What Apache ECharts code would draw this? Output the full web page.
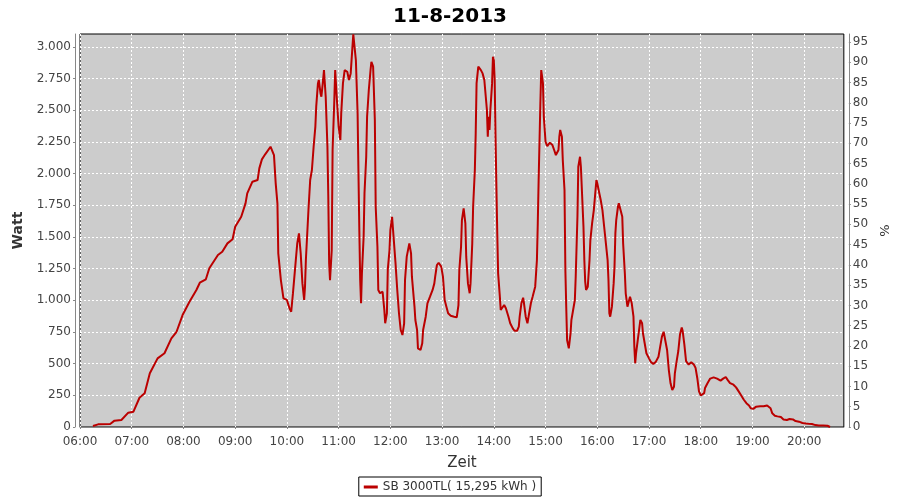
<!DOCTYPE html>
<html>
<head>
<meta charset="utf-8">
<script src="https://cdn.jsdelivr.net/npm/echarts@6/dist/echarts.min.js"></script>
<style>html,body{margin:0;padding:0;background:#fff}#c{width:900px;height:500px}</style>
</head>
<body>
<div id="c"></div>
<script>
const title = "11-8-2013";
const seriesName = "SB 3000TL( 15,295 kWh )";
const times = ["06:15","06:21","06:35","06:40","06:48","06:56","07:02","07:09","07:15","07:21","07:30","07:38","07:46","07:52","07:59","08:07","08:15","08:19","08:26","08:30","08:40","08:45","08:51","08:57","09:00","09:07","09:12","09:14","09:20","09:26","09:28","09:31","09:35","09:41","09:42","09:45","09:47","09:49","09:50","09:53","09:56","10:00","10:03","10:05","10:07","10:10","10:12","10:14","10:16","10:18","10:20","10:21","10:22","10:25","10:27","10:29","10:31","10:33","10:34","10:36","10:37","10:39","10:40","10:42","10:43","10:45","10:47","10:48","10:49","10:50","10:52","10:53","10:55","10:56","10:58","11:00","11:02","11:03","11:05","11:07","11:10","11:12","11:14","11:15","11:17","11:19","11:20","11:22","11:23","11:24","11:25","11:26","11:27","11:29","11:30","11:32","11:33","11:35","11:37","11:38","11:40","11:42","11:43","11:45","11:46","11:48","11:51","11:53","11:54","11:56","11:57","11:59","12:00","12:02","12:04","12:06","12:08","12:10","12:12","12:14","12:16","12:17","12:19","12:22","12:24","12:25","12:28","12:29","12:31","12:32","12:35","12:37","12:38","12:41","12:43","12:46","12:49","12:51","12:52","12:54","12:56","12:59","13:01","13:03","13:05","13:07","13:10","13:14","13:17","13:19","13:20","13:22","13:23","13:25","13:27","13:28","13:30","13:32","13:33","13:35","13:36","13:38","13:39","13:40","13:42","13:44","13:45","13:47","13:49","13:50","13:52","13:53","13:54","13:55","13:56","13:58","13:59","14:00","14:01","14:02","14:03","14:04","14:05","14:07","14:08","14:10","14:12","14:14","14:17","14:19","14:22","14:24","14:27","14:29","14:30","14:32","14:34","14:35","14:37","14:39","14:41","14:43","14:45","14:47","14:48","14:50","14:51","14:52","14:54","14:55","14:57","14:58","15:00","15:02","15:05","15:08","15:10","15:12","15:15","15:16","15:17","15:19","15:20","15:22","15:23","15:24","15:25","15:27","15:29","15:30","15:32","15:34","15:35","15:37","15:38","15:40","15:41","15:42","15:44","15:45","15:46","15:47","15:49","15:51","15:52","15:54","15:56","15:57","15:59","16:00","16:02","16:04","16:06","16:08","16:10","16:12","16:13","16:14","16:15","16:17","16:19","16:20","16:21","16:22","16:24","16:25","16:27","16:29","16:30","16:32","16:33","16:35","16:37","16:38","16:40","16:42","16:43","16:44","16:45","16:47","16:49","16:50","16:52","16:53","16:55","16:57","17:00","17:02","17:05","17:08","17:11","17:13","17:15","17:17","17:19","17:21","17:23","17:25","17:27","17:29","17:30","17:32","17:34","17:36","17:38","17:39","17:41","17:43","17:46","17:49","17:52","17:54","17:56","17:58","18:00","18:02","18:04","18:05","18:08","18:11","18:15","18:19","18:23","18:26","18:29","18:31","18:34","18:38","18:41","18:44","18:47","18:50","18:53","18:56","18:58","19:01","19:04","19:06","19:09","19:13","19:17","19:19","19:21","19:23","19:26","19:29","19:33","19:36","19:40","19:43","19:47","19:50","19:54","19:58","20:02","20:05","20:09","20:13","20:17","20:22","20:27","20:30"];
const watts = [8,21,24,50,55,113,121,231,266,424,542,582,700,752,884,989,1082,1139,1166,1253,1358,1384,1450,1482,1581,1660,1766,1845,1937,1950,2042,2113,2155,2213,2218,2147,1924,1766,1371,1160,1016,1003,937,910,1055,1292,1450,1529,1371,1134,1003,1108,1318,1713,1950,2029,2213,2371,2529,2713,2740,2634,2608,2740,2818,2608,2213,1818,1292,1160,1397,2187,2582,2818,2582,2371,2266,2476,2713,2818,2805,2740,2792,2897,3100,3090,2897,2476,2003,1555,1160,977,1213,1502,1845,2134,2450,2661,2818,2884,2845,2424,1739,1423,1082,1056,1068,924,819,898,1240,1397,1555,1660,1476,1292,1082,898,766,726,819,1160,1345,1450,1371,1187,950,845,766,621,608,661,766,871,977,1029,1082,1134,1187,1279,1297,1266,1187,1003,950,898,879,871,866,963,1240,1423,1634,1727,1608,1345,1134,1056,1134,1450,1739,2029,2319,2713,2845,2858,2818,2792,2740,2661,2503,2292,2450,2345,2503,2713,2924,2897,2740,2292,1897,1529,1213,1029,924,937,963,937,871,819,779,760,760,792,871,977,1021,977,871,819,898,977,1029,1029,1108,1318,1608,1950,2556,2818,2713,2450,2252,2218,2245,2226,2187,2147,2187,2292,2345,2292,2108,1871,1240,950,687,621,740,845,924,1003,1187,1660,2055,2134,2055,1897,1581,1318,1147,1082,1108,1318,1476,1608,1713,1792,1950,1924,1858,1792,1713,1581,1450,1318,1160,898,871,950,1134,1266,1529,1634,1739,1766,1713,1660,1450,1213,1056,950,1003,1029,977,871,634,503,582,687,792,845,819,740,661,582,542,516,497,516,555,634,713,752,740,608,450,345,292,318,424,516,600,733,786,760,653,520,493,512,493,467,387,281,249,241,268,308,347,382,392,382,366,382,395,374,347,334,313,281,249,215,188,170,148,143,159,170,164,164,170,170,148,108,89,84,79,60,55,63,60,47,42,32,28,26,24,15,12,12,10,0];
const xName = "Zeit", yName = "Watt", y2Name = "%";

function toMin(s){const p=s.split(":");return (+p[0])*60+(+p[1]);}
function pad2(n){return (n<10?"0":"")+n;}
function fmtW(v){ if(v%250!==0) return ""; if(v>=1000){const r=v%1000;return Math.floor(v/1000)+"."+("00"+r).slice(-3);} return ""+v; }

const data = times.map((t,i)=>[toMin(t), watts[i]]);
const Y1MAX = 3103, Y2MAX = Y1MAX/32;
const FONT = "DejaVu Sans";
const chart = echarts.init(document.getElementById('c'), null, {renderer:'canvas'});
chart.setOption({
  backgroundColor:'#ffffff',
  animation:false,
  title:{text:title,left:'center',top:2,textStyle:{fontFamily:FONT,fontSize:20,fontWeight:'bold',color:'#000'}},
  legend:{show:true,left:'center',top:477,padding:[4,5,3,5],borderColor:'#000',borderWidth:1,backgroundColor:'#fff',
    itemWidth:14,itemHeight:3,icon:'rect',itemGap:4,
    textStyle:{fontFamily:FONT,fontSize:12,color:'#333'}, data:[seriesName]},
  grid:{left:80,right:52,top:34,bottom:73,show:true,backgroundColor:'#cccccc',borderColor:'#000',borderWidth:1,containLabel:false},
  xAxis:{type:'value',min:360,max:1246,interval:60,offset:4,
    name:xName,nameLocation:'middle',nameGap:25,nameTextStyle:{fontFamily:FONT,fontSize:15,color:'#333'},
    axisLine:{show:true,lineStyle:{color:'#888',width:1}},
    axisTick:{show:true,length:2,lineStyle:{color:'#888'}},
    axisLabel:{fontFamily:FONT,fontSize:12,color:'#444',margin:5,showMaxLabel:false,
      formatter:v=>v%60===0?pad2(v/60)+":00":""},
    splitLine:{show:true,showMaxLine:false,lineStyle:{color:'#fff',type:[2,2],width:1}}},
  yAxis:[
    {type:'value',min:0,max:Y1MAX,interval:250,offset:5,position:'left',
     name:yName,nameLocation:'middle',nameGap:48,nameRotate:90,nameTextStyle:{fontFamily:FONT,fontSize:14,fontWeight:'bold',color:'#333'},
     axisLine:{show:true,lineStyle:{color:'#888'}},
     axisTick:{show:true,length:2,lineStyle:{color:'#888'}},
     axisLabel:{fontFamily:FONT,fontSize:12,color:'#444',margin:4,showMaxLabel:false,formatter:fmtW},
     splitLine:{show:true,showMaxLine:false,showMinLine:false,lineStyle:{color:'#fff',type:[2,2],width:1}}},
    {type:'value',min:0,max:Y2MAX,interval:5,offset:5,position:'right',
     name:y2Name,nameLocation:'middle',nameGap:25,nameRotate:90,nameTextStyle:{fontFamily:FONT,fontSize:13,color:'#333'},
     axisLine:{show:true,lineStyle:{color:'#888'}},
     axisTick:{show:true,length:2,lineStyle:{color:'#888'}},
     axisLabel:{fontFamily:FONT,fontSize:12,color:'#444',margin:4,showMaxLabel:false,formatter:v=>(Math.abs(v-Math.round(v))<1e-6&&Math.round(v)%5===0)?""+Math.round(v):""},
     splitLine:{show:false}}
  ],
  series:[{name:seriesName,type:'line',data:data,showSymbol:false,symbol:'none',
    lineStyle:{color:'#bb0000',width:2},itemStyle:{color:'#bb0000'},clip:true}]
});
</script>
</body>
</html>
